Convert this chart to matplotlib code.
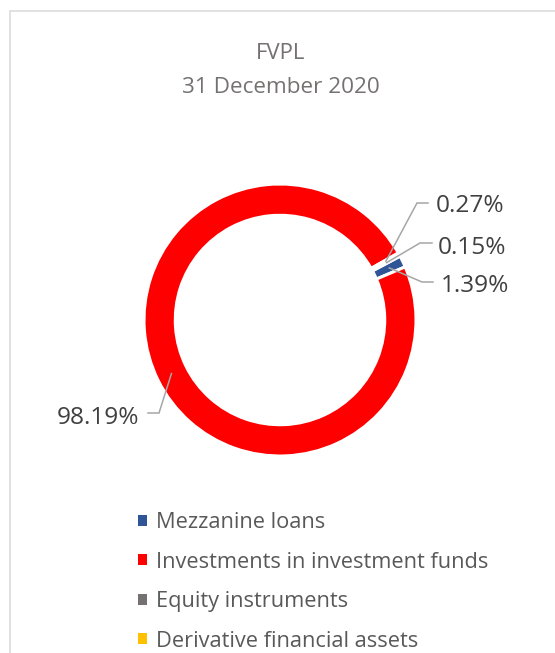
import matplotlib
matplotlib.use('Agg')
import matplotlib.pyplot as plt
from matplotlib.patches import Rectangle, Patch
import numpy as np

# ---- data ----
categories = ["Mezzanine loans", "Investments in investment funds",
              "Equity instruments", "Derivative financial assets"]
values = [1.39, 98.19, 0.27, 0.15]
value_labels = ["1.39%", "98.19%", "0.27%", "0.15%"]
colors = ["#2F5597", "#FF0000", "#767171", "#FFC000"]
title = "FVPL"
subtitle = "31 December 2020"

plt.rcParams['font.family'] = ['Open Sans', 'DejaVu Sans']

W, H = 555, 653
fig = plt.figure(figsize=(W / 100, H / 100), dpi=100)

# chart border
fig.add_artist(Rectangle((10 / W, -0.1), 1.2, (H - 11) / H + 0.1,
                         transform=fig.transFigure, fill=False,
                         edgecolor='#D9D9D9', lw=1.1))

# titles
fig.text(281 / W, 1 - 59 / H, title, ha='center', va='baseline',
         fontsize=16, color='#757171')
fig.text(281 / W, 1 - 93 / H, subtitle, ha='center', va='baseline',
         fontsize=16.2, color='#757171')

cx, cy, R = 280, 320, 136
ax = fig.add_axes([(cx - R) / W, (H - cy - R) / H, 2 * R / W, 2 * R / H])
wedges, _ = ax.pie(values, colors=colors, startangle=28, counterclock=False,
                   radius=1,
                   wedgeprops=dict(width=0.23, edgecolor='white', linewidth=2.2))
ax.set_xlim(-1, 1)
ax.set_ylim(-1, 1)
ax.set_aspect('equal')
ax.axis('off')


def px2data(px, py):
    return (px - cx) / R, (cy - py) / R


# layout of labels: (kink px, end px, text px, ha)
layout = [
    ((422, 282), (433, 282), (441, 292), 'left'),
    ((159, 413), (148, 413), (139, 424), 'right'),
    ((417, 203), (428, 203), (436, 212), 'left'),
    ((420, 243), (432, 243), (438, 254), 'left'),
]

for w, lab, (kink, end, tpos, ha) in zip(wedges, value_labels, layout):
    th = np.deg2rad((w.theta1 + w.theta2) / 2)
    ax0 = 0.89 * np.cos(th)
    ay0 = 0.89 * np.sin(th)
    kx, ky = px2data(*kink)
    ex, ey = px2data(*end)
    ax.plot([ax0, kx, ex], [ay0, ky, ey], color='#A6A6A6', lw=1.1,
            clip_on=False, solid_joinstyle='miter', zorder=5)
    tx, ty = px2data(*tpos)
    ax.text(tx, ty, lab, ha=ha, va='baseline', fontsize=17.6,
            color='#404040', clip_on=False)

handles = [Patch(facecolor=c, edgecolor='none') for c in colors]
fig.legend(handles, categories, loc='upper left',
           bbox_to_anchor=(138 / W, 1 - 512 / H), frameon=False,
           fontsize=15.7, handlelength=0.42, handleheight=0.42,
           handletextpad=0.42, labelspacing=0.85, borderpad=0,
           borderaxespad=0, labelcolor='#595959')

fig.savefig('out.png', dpi=100)
